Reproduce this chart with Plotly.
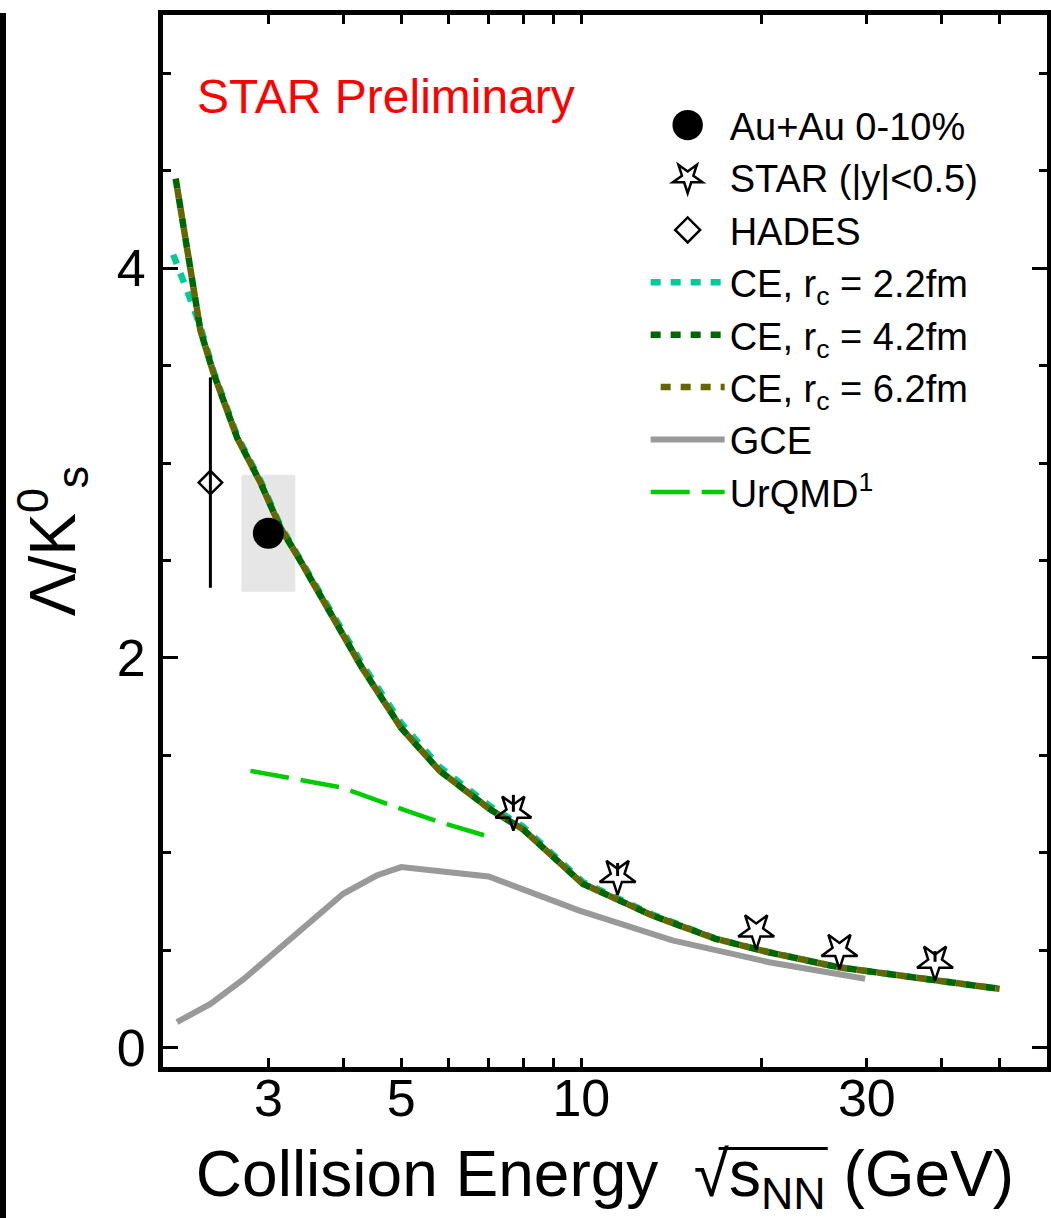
import plotly.graph_objects as go
import math

# ---------------- data ----------------
auau_energy = [3.0]
auau_ratio = [2.64]
auau_sys = [0.30]

star_energy = [7.7, 11.5, 19.6, 27.0, 39.0]
star_ratio = [1.21, 0.88, 0.60, 0.50, 0.44]
star_err = [0.087, 0.067, 0.0, 0.0, 0.055]

hades_energy = [2.4]
hades_ratio = [2.90]
hades_err = [0.54]

ce22_energy = [2.08, 2.16, 2.21, 2.31, 2.43, 2.66, 2.91, 3.14, 3.39, 3.70, 4.3, 5.0, 5.8, 7.03, 7.98, 10.05, 13.14, 16.76, 20.56, 26.9, 38.7, 50.0]
ce22_ratio = [4.07, 3.95, 3.86, 3.70, 3.47, 3.14, 2.91, 2.68, 2.51, 2.31, 1.97, 1.665, 1.44, 1.24, 1.135, 0.85, 0.683, 0.56, 0.49, 0.412, 0.345, 0.301]

ce42_energy = [2.10, 2.225, 2.31, 2.43, 2.66, 2.91, 3.14, 3.39, 3.70, 4.3, 5.0, 5.8, 7.03, 7.98, 10.05, 13.14, 16.76, 20.56, 26.9, 38.7, 50.0]
ce42_ratio = [4.46, 4.00, 3.68, 3.46, 3.13, 2.90, 2.67, 2.50, 2.30, 1.95, 1.64, 1.42, 1.224, 1.121, 0.841, 0.678, 0.558, 0.489, 0.412, 0.345, 0.301]

ce62_energy = [2.10, 2.225, 2.31, 2.43, 2.66, 2.91, 3.14, 3.39, 3.70, 4.3, 5.0, 5.8, 7.03, 7.98, 10.05, 13.14, 16.76, 20.56, 26.9, 38.7, 50.0]
ce62_ratio = [4.46, 4.00, 3.68, 3.46, 3.13, 2.90, 2.67, 2.50, 2.30, 1.95, 1.64, 1.42, 1.224, 1.121, 0.841, 0.678, 0.558, 0.489, 0.412, 0.345, 0.301]

gce_energy = [2.11, 2.40, 2.73, 3.10, 3.52, 4.0, 4.55, 5.0, 7.0, 9.9, 14.2, 20.6, 29.8]
gce_ratio = [0.13, 0.224, 0.352, 0.498, 0.644, 0.789, 0.883, 0.926, 0.878, 0.704, 0.55, 0.438, 0.353]

urqmd_energy = [2.8, 3.27, 3.98, 5.0, 5.76, 6.96]
urqmd_ratio = [1.42, 1.38, 1.335, 1.225, 1.16, 1.085]

x_tickvals = [3, 5, 10, 30]
x_ticktext = ["3", "5", "10", "30"]
x_minorvals = [2, 3, 4, 5, 6, 7, 8, 9, 20, 30, 40, 50, 60]
y_tickvals = [0, 2, 4]
y_ticktext = ["0", "2", "4"]

# ---------------- style ----------------
FONT = "Liberation Sans, Arial, Helvetica, sans-serif"
BOX_HALF_LOG = 0.045

fig = go.Figure()

# systematic box for Au+Au point
bx, by = [], []
for e, r, s in zip(auau_energy, auau_ratio, auau_sys):
    lo, hi = e * 10 ** (-BOX_HALF_LOG), e * 10 ** BOX_HALF_LOG
    bx += [lo, hi, hi, lo, lo, None]
    by += [r - s, r - s, r + s, r + s, r - s, None]
fig.add_trace(go.Scatter(x=bx, y=by, mode="lines", fill="toself", fillcolor="#E6E6E6",
                         line=dict(width=0, color="#E6E6E6"), showlegend=False, hoverinfo="skip"))

fig.add_trace(go.Scatter(x=gce_energy, y=gce_ratio, mode="lines", name="GCE", legendrank=7,
                         line=dict(color="#999999", width=6)))
fig.add_trace(go.Scatter(x=urqmd_energy, y=urqmd_ratio, mode="lines", name="UrQMD<sup>1</sup>", legendrank=8,
                         line=dict(color="#00CC00", width=4.5, dash="39px,12px")))
fig.add_trace(go.Scatter(x=ce22_energy, y=ce22_ratio, mode="lines", name="CE, r<sub>c</sub> = 2.2fm", legendrank=4,
                         line=dict(color="#00CC99", width=6.5, dash="10px,10px")))
fig.add_trace(go.Scatter(x=ce42_energy, y=ce42_ratio, mode="lines", name="CE, r<sub>c</sub> = 4.2fm", legendrank=5,
                         line=dict(color="#006600", width=6.5, dash="10px,10px")))
fig.add_trace(go.Scatter(x=ce62_energy, y=ce62_ratio, mode="lines", name="CE, r<sub>c</sub> = 6.2fm", legendrank=6,
                         line=dict(color="#666600", width=6.5, dash="0px,10px,10px,0px")))

fig.add_trace(go.Scatter(x=hades_energy, y=hades_ratio, mode="markers", name="HADES", legendrank=3,
                         marker=dict(symbol="diamond-open", size=18, color="black", line=dict(width=2.5, color="black")),
                         error_y=dict(type="data", array=hades_err, visible=True, color="black", thickness=3, width=0)))
fig.add_trace(go.Scatter(x=auau_energy, y=auau_ratio, mode="markers", name="Au+Au 0-10%", legendrank=1,
                         marker=dict(symbol="circle", size=31, color="black")))
fig.add_trace(go.Scatter(x=star_energy, y=star_ratio, mode="markers", name="STAR (|y|<0.5)", legendrank=2,
                         marker=dict(symbol="star-open", size=27, color="black", angle=180,
                                     line=dict(width=2.5, color="black")),
                         error_y=dict(type="data", array=star_err, arrayminus=[0] * len(star_err),
                                      symmetric=False, visible=True, color="black", thickness=3, width=0)))

xr = [math.log10(2), math.log10(60)]

fig.update_layout(
    width=1051, height=1218,
    margin=dict(l=163, r=4, t=15, b=151, autoexpand=False),
    paper_bgcolor="white", plot_bgcolor="white",
    font=dict(family=FONT, color="black"),
    showlegend=True,
    legend=dict(x=0.546, y=0.925, xanchor="left", yanchor="top", font=dict(size=38, family=FONT),
                itemwidth=74, bgcolor="rgba(0,0,0,0)", tracegroupgap=0),
    xaxis=dict(type="log", range=xr, tickvals=x_tickvals, ticktext=x_ticktext,
               ticks="inside", ticklen=9, tickwidth=2.5, tickcolor="black",
               minor=dict(tickvals=x_minorvals, ticks="inside", ticklen=9, tickwidth=2.5, tickcolor="black"),
               showline=True, linewidth=5, linecolor="black", mirror="ticks",
               showgrid=False, zeroline=False, automargin=False,
               tickfont=dict(size=52, family=FONT), ticklabelstandoff=-18,
               title=dict(text="Collision Energy  \u221as<sub>NN</sub> (GeV)",
                          font=dict(size=64, family=FONT), standoff=34)),
    xaxis2=dict(type="log", range=xr, overlaying="x", anchor="y", side="bottom",
                tickvals=[10], ticks="inside", ticklen=18, tickwidth=2.5, tickcolor="black",
                showticklabels=False, showline=False, mirror="ticks", showgrid=False, zeroline=False),
    yaxis=dict(range=[-0.1, 5.3], tickvals=y_tickvals, ticktext=y_ticktext,
               ticks="inside", ticklen=15, tickwidth=2.5, tickcolor="black",
               minor=dict(dtick=0.5, tick0=0, ticks="inside", ticklen=8, tickwidth=2.5, tickcolor="black"),
               showline=True, linewidth=5, linecolor="black", mirror="ticks",
               showgrid=False, zeroline=False, automargin=False,
               tickfont=dict(size=52, family=FONT), ticklabelstandoff=2,
               title=dict(text="\u039b/K<sup>0</sup><sub>s</sub>", font=dict(size=64, family=FONT), standoff=22)),
    annotations=[dict(text="STAR Preliminary", xref="paper", yref="paper", x=0.036, y=0.923,
                      xanchor="left", yanchor="middle", showarrow=False,
                      font=dict(size=48, color="#FF0000", family=FONT))],
    shapes=[dict(type="line", xref="paper", yref="paper", x0=-0.181, x1=-0.181, y0=1.002, y1=-0.145,
                 line=dict(color="black", width=6), layer="above"),
            dict(type="line", xref="paper", yref="paper", x0=0.6285, x1=0.752, y0=-0.0775, y1=-0.0775,
                 line=dict(color="black", width=3), layer="above")],
)

post_js = """
document.body.style.margin='0px';
(function(){
  var scales = {'Au+Au': 1.9, 'STAR': 1.4, 'HADES': 1.2};
  document.querySelectorAll('.legend g.traces').forEach(function(tr){
    var txt = tr.querySelector('text.legendtext');
    if(!txt) return;
    var s = txt.textContent || '';
    var k = null;
    Object.keys(scales).forEach(function(key){ if(s.indexOf(key) === 0) k = scales[key]; });
    if(!k) return;
    tr.querySelectorAll('.legendpoints path.scatterpts').forEach(function(p){
      var t = p.getAttribute('transform') || '';
      if(t.indexOf('scale') < 0){
        p.setAttribute('transform', t + ' scale(' + k + ')');
        p.style.strokeWidth = (2.5 / k) + 'px';
      }
    });
  });
})();
"""

fig.write_html("out.html", post_script=post_js, config={"displayModeBar": False})
